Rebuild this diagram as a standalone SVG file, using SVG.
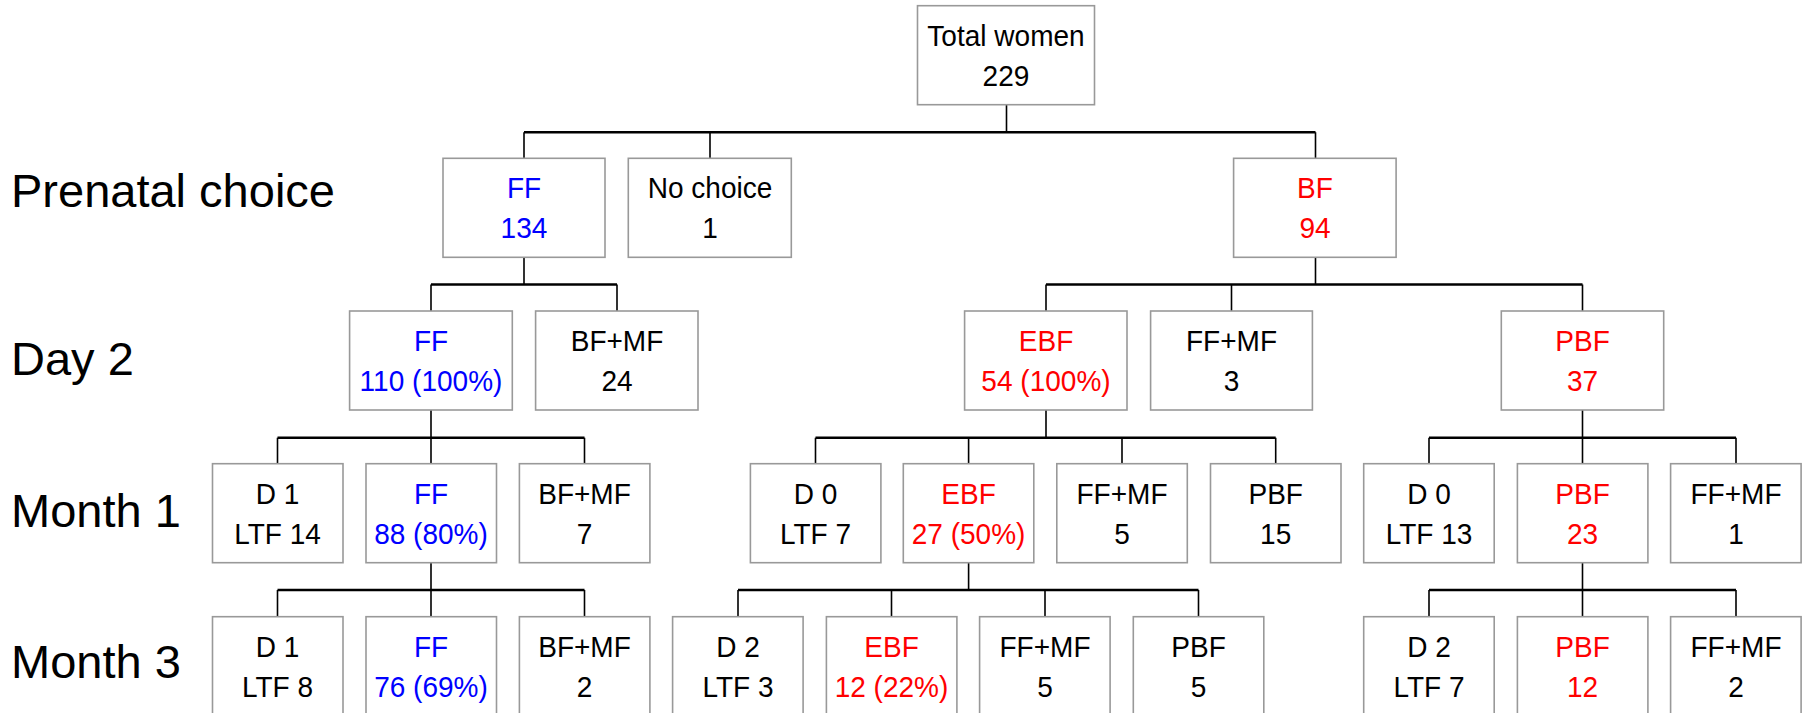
<svg xmlns="http://www.w3.org/2000/svg" width="1806" height="713" viewBox="0 0 1806 713">
<style>
.box{fill:#fff;stroke:#999;stroke-width:1.6}
.t{font-family:"Liberation Sans",Arial,sans-serif;font-size:29.5px;text-anchor:middle;fill:#000}
.b{fill:#0000ff}
.r{fill:#ff0000}
.lbl{font-family:"Liberation Sans",Arial,sans-serif;font-size:47px;fill:#000}
.h{stroke:#000;stroke-width:2.6;fill:none}
.v{stroke:#000;stroke-width:1.6;fill:none}
</style>
<rect width="1806" height="713" fill="#fff"/>
<g id="labels">
<text class="lbl" x="11" y="207">Prenatal choice</text>
<text class="lbl" x="11" y="375">Day 2</text>
<text class="lbl" x="11" y="527">Month 1</text>
<text class="lbl" x="11" y="678">Month 3</text>
</g>
<g id="connectors">
<path class="v" d="M1006.5 104.7V132.3M524 132.3V158.3M710 132.3V158.3M1315.5 132.3V158.3"/>
<path class="h" d="M524 132.3H1315.5"/>
<path class="v" d="M524 257.3V284.5M431 284.5V311M617 284.5V311"/>
<path class="h" d="M431 284.5H617"/>
<path class="v" d="M1315.5 257.3V284.5M1046 284.5V311M1231.5 284.5V311M1582.5 284.5V311"/>
<path class="h" d="M1046 284.5H1582.5"/>
<path class="v" d="M431 410V437.7M277.5 437.7V463.7M431 437.7V463.7M584.5 437.7V463.7"/>
<path class="h" d="M277.5 437.7H584.5"/>
<path class="v" d="M1046 410V437.7M815.5 437.7V463.7M968.6 437.7V463.7M1122 437.7V463.7M1275.7 437.7V463.7"/>
<path class="h" d="M815.5 437.7H1275.7"/>
<path class="v" d="M1582.5 410V437.7M1429 437.7V463.7M1582.5 437.7V463.7M1736 437.7V463.7"/>
<path class="h" d="M1429 437.7H1736"/>
<path class="v" d="M431 563V590M277.5 590V616.7M431 590V616.7M584.5 590V616.7"/>
<path class="h" d="M277.5 590H584.5"/>
<path class="v" d="M968.6 563V590M738 590V616.7M891.5 590V616.7M1045 590V616.7M1198.5 590V616.7"/>
<path class="h" d="M738 590H1198.5"/>
<path class="v" d="M1582.5 563V590M1429 590V616.7M1582.5 590V616.7M1736 590V616.7"/>
<path class="h" d="M1429 590H1736"/>
</g>
<g id="total"><rect class="box" x="917.5" y="5.7" width="177" height="99"/><text class="t" transform="translate(1006,5.7) scale(0.95,1)"><tspan x="0" y="40">Total women</tspan><tspan x="0" y="80">229</tspan></text></g>
<g id="pre-ff"><rect class="box" x="443" y="158.3" width="162" height="99"/><text class="t b" transform="translate(524,158.3) scale(0.95,1)"><tspan x="0" y="40">FF</tspan><tspan x="0" y="80">134</tspan></text></g>
<g id="pre-none"><rect class="box" x="628.3" y="158.3" width="163" height="99"/><text class="t" transform="translate(710,158.3) scale(0.95,1)"><tspan x="0" y="40">No choice</tspan><tspan x="0" y="80">1</tspan></text></g>
<g id="pre-bf"><rect class="box" x="1233.6" y="158.3" width="162.5" height="99"/><text class="t r" transform="translate(1315,158.3) scale(0.95,1)"><tspan x="0" y="40">BF</tspan><tspan x="0" y="80">94</tspan></text></g>
<g id="d2-ff"><rect class="box" x="349.6" y="311" width="162.7" height="99"/><text class="t b" transform="translate(431,311) scale(0.95,1)"><tspan x="0" y="40">FF</tspan><tspan x="0" y="80">110 (100%)</tspan></text></g>
<g id="d2-bfmf"><rect class="box" x="535.6" y="311" width="162.4" height="99"/><text class="t" transform="translate(617,311) scale(0.95,1)"><tspan x="0" y="40">BF+MF</tspan><tspan x="0" y="80">24</tspan></text></g>
<g id="d2-ebf"><rect class="box" x="964.6" y="311" width="162.4" height="99"/><text class="t r" transform="translate(1046,311) scale(0.95,1)"><tspan x="0" y="40">EBF</tspan><tspan x="0" y="80">54 (100%)</tspan></text></g>
<g id="d2-ffmf"><rect class="box" x="1150.6" y="311" width="161.8" height="99"/><text class="t" transform="translate(1231.5,311) scale(0.95,1)"><tspan x="0" y="40">FF+MF</tspan><tspan x="0" y="80">3</tspan></text></g>
<g id="d2-pbf"><rect class="box" x="1501.3" y="311" width="162.4" height="99"/><text class="t r" transform="translate(1582.5,311) scale(0.95,1)"><tspan x="0" y="40">PBF</tspan><tspan x="0" y="80">37</tspan></text></g>
<g id="m1-d1"><rect class="box" x="212.5" y="463.7" width="130.5" height="99"/><text class="t" transform="translate(277.5,463.7) scale(0.95,1)"><tspan x="0" y="40">D 1</tspan><tspan x="0" y="80">LTF 14</tspan></text></g>
<g id="m1-ff"><rect class="box" x="366" y="463.7" width="130.5" height="99"/><text class="t b" transform="translate(431,463.7) scale(0.95,1)"><tspan x="0" y="40">FF</tspan><tspan x="0" y="80">88 (80%)</tspan></text></g>
<g id="m1-bfmf"><rect class="box" x="519.4" y="463.7" width="130.5" height="99"/><text class="t" transform="translate(584.5,463.7) scale(0.95,1)"><tspan x="0" y="40">BF+MF</tspan><tspan x="0" y="80">7</tspan></text></g>
<g id="m1-d0a"><rect class="box" x="750.4" y="463.7" width="130.5" height="99"/><text class="t" transform="translate(815.5,463.7) scale(0.95,1)"><tspan x="0" y="40">D 0</tspan><tspan x="0" y="80">LTF 7</tspan></text></g>
<g id="m1-ebf"><rect class="box" x="903.3" y="463.7" width="130.5" height="99"/><text class="t r" transform="translate(968.6,463.7) scale(0.95,1)"><tspan x="0" y="40">EBF</tspan><tspan x="0" y="80">27 (50%)</tspan></text></g>
<g id="m1-ffmf"><rect class="box" x="1056.8" y="463.7" width="130.5" height="99"/><text class="t" transform="translate(1122,463.7) scale(0.95,1)"><tspan x="0" y="40">FF+MF</tspan><tspan x="0" y="80">5</tspan></text></g>
<g id="m1-pbf"><rect class="box" x="1210.5" y="463.7" width="130.5" height="99"/><text class="t" transform="translate(1275.7,463.7) scale(0.95,1)"><tspan x="0" y="40">PBF</tspan><tspan x="0" y="80">15</tspan></text></g>
<g id="m1-d0b"><rect class="box" x="1363.7" y="463.7" width="130.5" height="99"/><text class="t" transform="translate(1429,463.7) scale(0.95,1)"><tspan x="0" y="40">D 0</tspan><tspan x="0" y="80">LTF 13</tspan></text></g>
<g id="m1-pbf2"><rect class="box" x="1517.4" y="463.7" width="130.5" height="99"/><text class="t r" transform="translate(1582.5,463.7) scale(0.95,1)"><tspan x="0" y="40">PBF</tspan><tspan x="0" y="80">23</tspan></text></g>
<g id="m1-ffmf2"><rect class="box" x="1670.6" y="463.7" width="130.5" height="99"/><text class="t" transform="translate(1736,463.7) scale(0.95,1)"><tspan x="0" y="40">FF+MF</tspan><tspan x="0" y="80">1</tspan></text></g>
<g id="m3-d1"><rect class="box" x="212.5" y="616.7" width="130.5" height="99"/><text class="t" transform="translate(277.5,616.7) scale(0.95,1)"><tspan x="0" y="40">D 1</tspan><tspan x="0" y="80">LTF 8</tspan></text></g>
<g id="m3-ff"><rect class="box" x="366" y="616.7" width="130.5" height="99"/><text class="t b" transform="translate(431,616.7) scale(0.95,1)"><tspan x="0" y="40">FF</tspan><tspan x="0" y="80">76 (69%)</tspan></text></g>
<g id="m3-bfmf"><rect class="box" x="519.4" y="616.7" width="130.5" height="99"/><text class="t" transform="translate(584.5,616.7) scale(0.95,1)"><tspan x="0" y="40">BF+MF</tspan><tspan x="0" y="80">2</tspan></text></g>
<g id="m3-d2a"><rect class="box" x="672.6" y="616.7" width="130.5" height="99"/><text class="t" transform="translate(738,616.7) scale(0.95,1)"><tspan x="0" y="40">D 2</tspan><tspan x="0" y="80">LTF 3</tspan></text></g>
<g id="m3-ebf"><rect class="box" x="826.4" y="616.7" width="130.5" height="99"/><text class="t r" transform="translate(891.5,616.7) scale(0.95,1)"><tspan x="0" y="40">EBF</tspan><tspan x="0" y="80">12 (22%)</tspan></text></g>
<g id="m3-ffmf"><rect class="box" x="979.6" y="616.7" width="130.5" height="99"/><text class="t" transform="translate(1045,616.7) scale(0.95,1)"><tspan x="0" y="40">FF+MF</tspan><tspan x="0" y="80">5</tspan></text></g>
<g id="m3-pbf"><rect class="box" x="1133.3" y="616.7" width="130.5" height="99"/><text class="t" transform="translate(1198.5,616.7) scale(0.95,1)"><tspan x="0" y="40">PBF</tspan><tspan x="0" y="80">5</tspan></text></g>
<g id="m3-d2b"><rect class="box" x="1363.7" y="616.7" width="130.5" height="99"/><text class="t" transform="translate(1429,616.7) scale(0.95,1)"><tspan x="0" y="40">D 2</tspan><tspan x="0" y="80">LTF 7</tspan></text></g>
<g id="m3-pbf2"><rect class="box" x="1517.4" y="616.7" width="130.5" height="99"/><text class="t r" transform="translate(1582.5,616.7) scale(0.95,1)"><tspan x="0" y="40">PBF</tspan><tspan x="0" y="80">12</tspan></text></g>
<g id="m3-ffmf2"><rect class="box" x="1670.6" y="616.7" width="130.5" height="99"/><text class="t" transform="translate(1736,616.7) scale(0.95,1)"><tspan x="0" y="40">FF+MF</tspan><tspan x="0" y="80">2</tspan></text></g>
</svg>
